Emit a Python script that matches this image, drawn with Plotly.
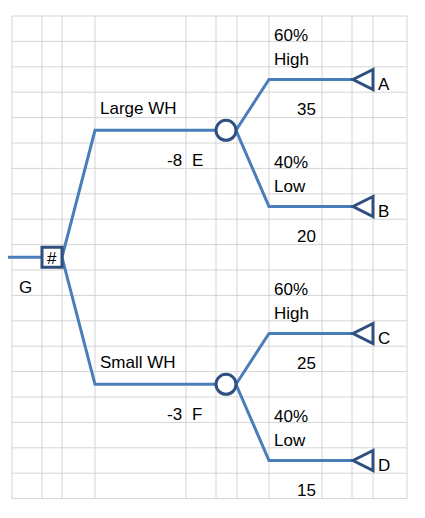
import plotly.graph_objects as go

# Data
branches = ["Large WH", "Small WH"]
branch_costs = [-8, -3]
chance_labels = ["E", "F"]
outcomes = ["High", "Low"]
probs = ["60%", "40%"]
payoffs = [[35, 20], [25, 15]]
end_labels = [["A", "B"], ["C", "D"]]
root_label = "G"

col_x = [12, 42, 62, 95, 186, 216, 237, 269, 322, 352, 373, 407]
row_h = 25.4
top = 16
nrows = 19

C = "#4A7EBB"
D = "#2F4F7F"
F = dict(family="Liberation Sans, Arial", size=17, color="black")

shapes = []
for x in col_x:
    shapes.append(dict(type="line", x0=x, x1=x, y0=top, y1=top + nrows * row_h, line=dict(color="#D4D4D4", width=1), layer="below"))
for k in range(nrows + 1):
    y = top + k * row_h
    shapes.append(dict(type="line", x0=col_x[0], x1=col_x[-1], y0=y, y1=y, line=dict(color="#D4D4D4", width=1), layer="below"))

ann = []
def txt(x, y, s, anchor="left"):
    ann.append(dict(x=x, y=y, text=str(s), showarrow=False, xanchor=anchor, yanchor="middle", font=F))

fig = go.Figure()
root_y = top + 9.5 * row_h
def line(xs, ys, color=C, w=3):
    fig.add_trace(go.Scatter(x=xs, y=ys, mode="lines", line=dict(color=color, width=w), hoverinfo="skip"))

line([0, 42], [root_y, root_y])
for i, b in enumerate(branches):
    by = top + (4.5 + 10 * i) * row_h
    line([62, 95, 216], [root_y, by, by])
    txt(98, by - row_h * 0.85, b)
    txt(184, by + row_h * 1.2, branch_costs[i], "right")
    txt(190, by + row_h * 1.2, chance_labels[i])
    shapes.append(dict(type="circle", x0=216, x1=236, y0=by - 10, y1=by + 10, line=dict(color=D, width=3), fillcolor="white"))
    for j, o in enumerate(outcomes):
        oy = by + (-2 if j == 0 else 3) * row_h
        line([236, 269, 352], [by, oy, oy])
        txt(272, oy - row_h * 1.75, probs[j])
        txt(272, oy - row_h * 0.8, o)
        txt(318, oy + row_h * 1.2, payoffs[i][j], "right")
        shapes.append(dict(type="path", path=f"M 373 {oy-10} L 353 {oy} L 373 {oy+10} Z", line=dict(color=D, width=3), fillcolor="white"))
        txt(376, oy + 5, end_labels[i][j])

shapes.append(dict(type="rect", x0=42, x1=62, y0=root_y - 10, y1=root_y + 10, line=dict(color=D, width=3), fillcolor="white"))
txt(52, root_y + 1, "#", "center")
txt(17, root_y + row_h * 1.2, root_label)

fig.update_layout(width=425, height=518, margin=dict(l=0, r=0, t=0, b=0), showlegend=False,
                  plot_bgcolor="white", paper_bgcolor="white", shapes=shapes, annotations=ann,
                  xaxis=dict(range=[8, 433], visible=False, fixedrange=True),
                  yaxis=dict(range=[526, 8], visible=False, fixedrange=True))
fig.write_html("out.html")
